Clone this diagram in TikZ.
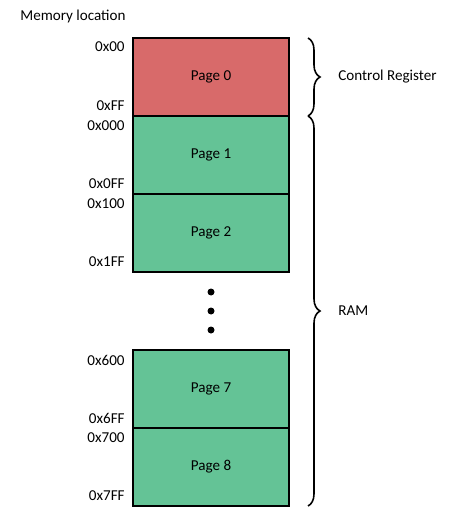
\documentclass[tikz,border=0pt]{standalone}
\usepackage{fontspec}
\setmainfont{Carlito}
\usetikzlibrary{positioning,decorations.pathreplacing}
\definecolor{pagered}{HTML}{D86A6A}
\definecolor{pagegreen}{HTML}{64C396}
\tikzset{
  pg/.style={draw=black, line width=1.1pt, minimum width=3.12cm, minimum height=1.56cm,
    inner sep=0pt, outer sep=0pt, font=\fontsize{8.6}{10}\selectfont},
  ctl/.style={pg, fill=pagered},
  ram/.style={pg, fill=pagegreen},
  adr/.style={anchor=east, inner sep=0pt, font=\fontsize{8.6}{10}\selectfont},
  lbl/.style={anchor=west, inner sep=0pt, font=\fontsize{8.6}{10}\selectfont},
  dot/.style={circle, fill=black, inner sep=0pt, minimum size=0.14cm},
  brc/.style={decorate, decoration={brace, amplitude=0.24cm}, line width=0.9pt},
}

\begin{document}
\begin{tikzpicture}[x=0.02cm, y=-0.02cm]
  \useasboundingbox (0,0) rectangle (459,520);
  \node[lbl] (title) at (20,16) {Memory location};
  % pages
  \node[ctl] (p0) at (211,77) {Page 0};
  \node[ram, below=0pt of p0] (p1) {Page 1};
  \node[ram, below=0pt of p1] (p2) {Page 2};
  \node[ram] (p7) at (211,389) {Page 7};
  \node[ram, below=0pt of p7] (p8) {Page 8};
  % addresses
  \node[adr] (a0s) at (125,47) {0x00};
  \node[adr] (a0e) at (125,106) {0xFF};
  \node[adr] (a1s) at (125,126) {0x000};
  \node[adr] (a1e) at (125,184) {0x0FF};
  \node[adr] (a2s) at (125,204) {0x100};
  \node[adr] (a2e) at (125,262) {0x1FF};
  \node[adr] (a7s) at (125,360) {0x600};
  \node[adr] (a7e) at (125,418) {0x6FF};
  \node[adr] (a8s) at (125,438) {0x700};
  \node[adr] (a8e) at (125,496) {0x7FF};
  % gap
  \node[dot] (d1) at (211,292) {};
  \node[dot] (d2) at (211,311) {};
  \node[dot] (d3) at (211,330) {};
  % braces
  \coordinate (cr1) at (308,38);
  \coordinate (cr2) at (308,116);
  \coordinate (rm1) at (308,116);
  \coordinate (rm2) at (308,506);
  \draw[brc] (cr1) -- (cr2);
  \draw[brc] (rm1) -- (rm2);
  \node[lbl] (crl) at (338,77) {Control Register};
  \node[lbl] (rml) at (338,311) {RAM};
\end{tikzpicture}
\end{document}
